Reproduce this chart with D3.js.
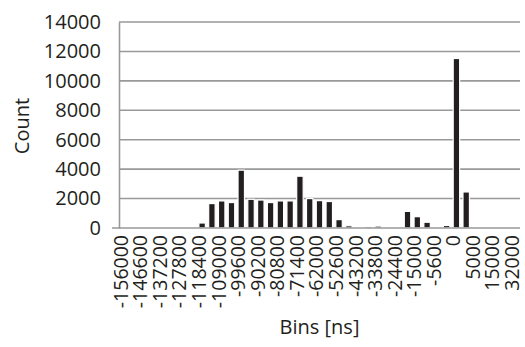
<!DOCTYPE html>
<html>
<head>
<meta charset="utf-8">
<script src="https://cdn.jsdelivr.net/npm/d3@7"></script>
<style>
  body { margin: 0; background: #fff; }
  svg { display: block; font-family: "Open Sans", sans-serif; }
</style>
</head>
<body>
<svg width="525" height="347"></svg>
<script>
const bins = [
  "-156000", "-151300", "-146600", "-141900", "-137200", "-132500", "-127800",
  "-123100", "-118400", "-113700", "-109000", "-104300", "-99600", "-94900",
  "-90200", "-85500", "-80800", "-76100", "-71400", "-66700", "-62000",
  "-57300", "-52600", "-47900", "-43200", "-38500", "-33800", "-29100",
  "-24400", "-19700", "-15000", "-10300", "-5600", "-900", "0",
  "2500", "5000", "10000", "15000", "20000", "32000"
];
const counts = [
  0, 0, 0, 0, 0, 0, 0,
  0, 340, 1660, 1840, 1730, 3930, 1950,
  1900, 1730, 1840, 1840, 3520, 2000, 1860,
  1800, 570, 150, 0, 100, 130, 40,
  0, 1130, 770, 390, 0, 170, 11520,
  2450, 0, 0, 0, 0, 0
];
const tickLabels = [
  "-156000", "-146600", "-137200", "-127800", "-118400", "-109000", "-99600",
  "-90200", "-80800", "-71400", "-62000", "-52600", "-43200", "-33800",
  "-24400", "-15000", "-5600", "0", "5000", "15000", "32000"
];
const yTicks = [0, 2000, 4000, 6000, 8000, 10000, 12000, 14000];

const svg = d3.select("svg");
const margin = { top: 22, right: 5, bottom: 119, left: 119 };
const width = +svg.attr("width") - margin.left - margin.right;
const height = +svg.attr("height") - margin.top - margin.bottom;

const g = svg.append("g")
  .attr("transform", `translate(${margin.left},${margin.top})`);

const x = d3.scaleBand()
  .domain(bins)
  .range([0, width])
  .paddingInner(0.34)
  .paddingOuter(0.17);

const y = d3.scaleLinear()
  .domain([0, 14000])
  .range([height, 0]);

// gridlines
g.append("g")
  .selectAll("line")
  .data(yTicks.slice(1))
  .enter()
  .append("line")
  .attr("x1", 0)
  .attr("x2", width)
  .attr("y1", d => y(d))
  .attr("y2", d => y(d))
  .attr("stroke", "#999")
  .attr("stroke-width", 1.6);

// bars
g.selectAll(".bar")
  .data(bins.map((b, i) => [b, counts[i]]).filter(d => d[1] > 0))
  .enter()
  .append("rect")
  .attr("class", "bar")
  .attr("x", d => x(d[0]))
  .attr("y", d => y(d[1]))
  .attr("width", x.bandwidth())
  .attr("height", d => height - y(d[1]))
  .attr("fill", "#231f20")
  .attr("stroke", "#fff")
  .attr("stroke-width", 1.2);

// y axis
const yAxis = d3.axisLeft(y)
  .tickValues(yTicks)
  .tickFormat(d3.format("d"))
  .tickSize(0)
  .tickPadding(18);
g.append("g")
  .attr("id", "y-axis")
  .call(yAxis)
  .call(s => s.select(".domain").attr("stroke", "#999").attr("stroke-width", 1.6))
  .selectAll("text")
  .attr("font-size", 20)
  .attr("font-family", "Open Sans, sans-serif")
  .attr("fill", "#231f20");

// x axis
const xAxis = d3.axisBottom(x)
  .tickValues(tickLabels)
  .tickSize(0)
  .tickPadding(0);
const xg = g.append("g")
  .attr("id", "x-axis")
  .attr("transform", `translate(0,${height})`)
  .call(xAxis);
xg.select(".domain").remove();
xg.append("line")
  .attr("x1", -7).attr("x2", width)
  .attr("stroke", "#999").attr("stroke-width", 1.6);
xg.selectAll(".tick text")
  .attr("font-size", 19.5)
  .attr("font-family", "Open Sans, sans-serif")
  .attr("fill", "#231f20")
  .attr("text-anchor", "end")
  .attr("transform", "rotate(-90)")
  .attr("x", -7)
  .attr("y", 0)
  .attr("dy", "0.2em");

// axis titles
svg.append("text")
  .attr("transform", "translate(29,126) rotate(-90)")
  .attr("text-anchor", "middle")
  .attr("font-size", 20)
  .attr("fill", "#231f20")
  .text("Count");

svg.append("text")
  .attr("x", margin.left + width / 2)
  .attr("y", 334)
  .attr("text-anchor", "middle")
  .attr("font-size", 20)
  .attr("fill", "#231f20")
  .text("Bins [ns]");
</script>
</body>
</html>
